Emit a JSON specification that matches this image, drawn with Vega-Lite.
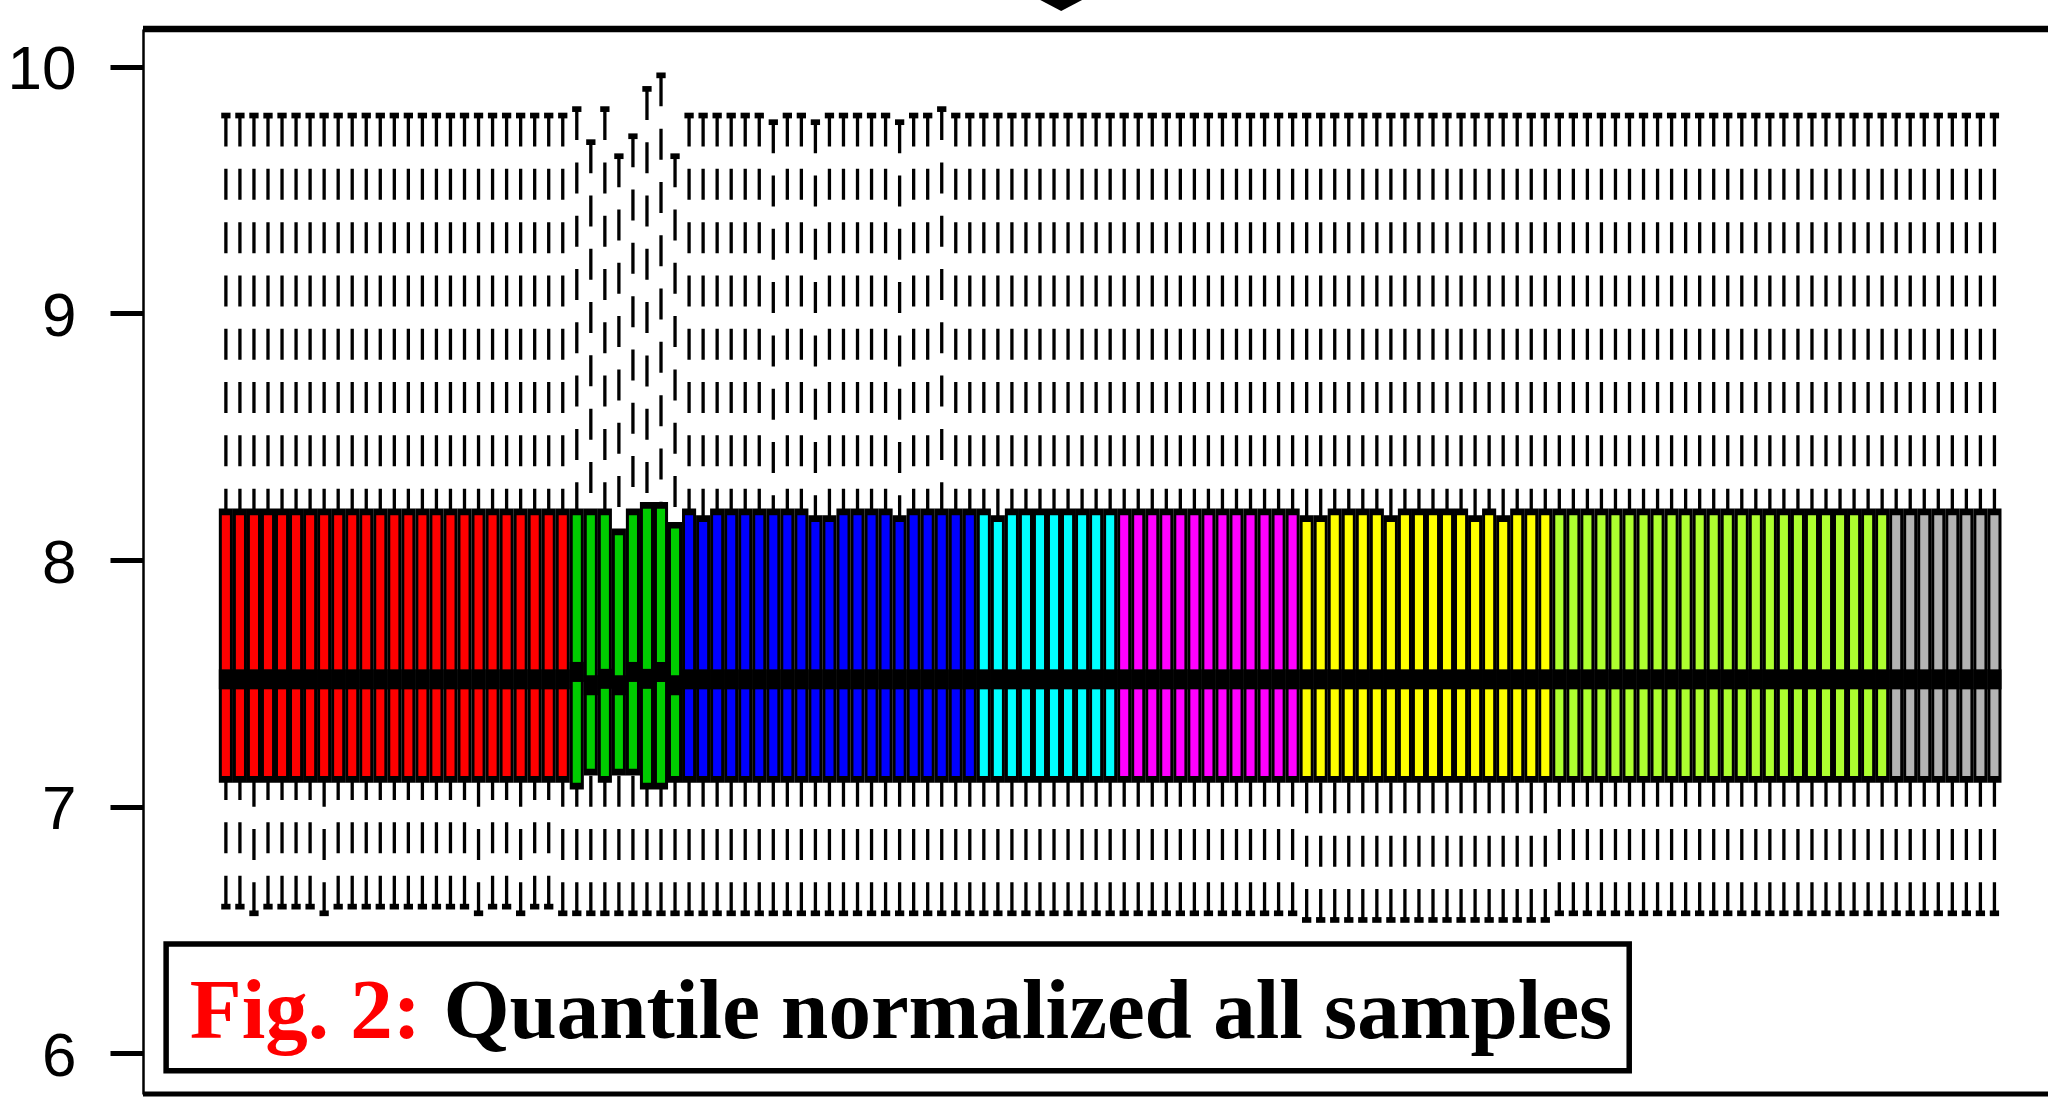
{
  "$schema": "https://vega.github.io/schema/vega-lite/v6.json",
  "autosize": {"type": "none"},
  "padding": {"left": 143, "top": 29, "right": 0, "bottom": 3},
  "width": 1905,
  "height": 1065,
  "background": "white",
  "config": {
    "view": {"stroke": null},
    "axisY": {
      "domain": true, "domainColor": "black", "domainWidth": 2.5,
      "ticks": true, "tickColor": "black", "tickWidth": 5, "tickSize": 33,
      "labelFont": "Liberation Sans Narrow, Liberation Sans", "labelFontSize": 62,
      "labelColor": "black", "labelPadding": 34, "labelOffset": 3,
      "grid": false, "title": null
    }
  },
  "datasets": {
    "boxes": [
      {"s":1,"g":"A","lo":6.594,"q1":7.11,"md":7.516,"q3":8.195,"hi":9.803},
      {"s":2,"g":"A","lo":6.594,"q1":7.11,"md":7.516,"q3":8.195,"hi":9.803},
      {"s":3,"g":"A","lo":6.567,"q1":7.11,"md":7.516,"q3":8.195,"hi":9.803},
      {"s":4,"g":"A","lo":6.594,"q1":7.11,"md":7.516,"q3":8.195,"hi":9.803},
      {"s":5,"g":"A","lo":6.594,"q1":7.11,"md":7.516,"q3":8.195,"hi":9.803},
      {"s":6,"g":"A","lo":6.594,"q1":7.11,"md":7.516,"q3":8.195,"hi":9.803},
      {"s":7,"g":"A","lo":6.594,"q1":7.11,"md":7.516,"q3":8.195,"hi":9.803},
      {"s":8,"g":"A","lo":6.567,"q1":7.11,"md":7.516,"q3":8.195,"hi":9.803},
      {"s":9,"g":"A","lo":6.594,"q1":7.11,"md":7.516,"q3":8.195,"hi":9.803},
      {"s":10,"g":"A","lo":6.594,"q1":7.11,"md":7.516,"q3":8.195,"hi":9.803},
      {"s":11,"g":"A","lo":6.594,"q1":7.11,"md":7.516,"q3":8.195,"hi":9.803},
      {"s":12,"g":"A","lo":6.594,"q1":7.11,"md":7.516,"q3":8.195,"hi":9.803},
      {"s":13,"g":"A","lo":6.594,"q1":7.11,"md":7.516,"q3":8.195,"hi":9.803},
      {"s":14,"g":"A","lo":6.594,"q1":7.11,"md":7.516,"q3":8.195,"hi":9.803},
      {"s":15,"g":"A","lo":6.594,"q1":7.11,"md":7.516,"q3":8.195,"hi":9.803},
      {"s":16,"g":"A","lo":6.594,"q1":7.11,"md":7.516,"q3":8.195,"hi":9.803},
      {"s":17,"g":"A","lo":6.594,"q1":7.11,"md":7.516,"q3":8.195,"hi":9.803},
      {"s":18,"g":"A","lo":6.594,"q1":7.11,"md":7.516,"q3":8.195,"hi":9.803},
      {"s":19,"g":"A","lo":6.567,"q1":7.11,"md":7.516,"q3":8.195,"hi":9.803},
      {"s":20,"g":"A","lo":6.594,"q1":7.11,"md":7.516,"q3":8.195,"hi":9.803},
      {"s":21,"g":"A","lo":6.594,"q1":7.11,"md":7.516,"q3":8.195,"hi":9.803},
      {"s":22,"g":"A","lo":6.567,"q1":7.11,"md":7.516,"q3":8.195,"hi":9.803},
      {"s":23,"g":"A","lo":6.594,"q1":7.11,"md":7.516,"q3":8.195,"hi":9.803},
      {"s":24,"g":"A","lo":6.594,"q1":7.11,"md":7.516,"q3":8.195,"hi":9.803},
      {"s":25,"g":"A","lo":6.567,"q1":7.11,"md":7.516,"q3":8.195,"hi":9.803},
      {"s":26,"g":"B","lo":6.567,"q1":7.083,"md":7.546,"q3":8.195,"hi":9.829},
      {"s":27,"g":"B","lo":6.567,"q1":7.14,"md":7.492,"q3":8.195,"hi":9.695},
      {"s":28,"g":"B","lo":6.567,"q1":7.11,"md":7.518,"q3":8.195,"hi":9.829},
      {"s":29,"g":"B","lo":6.567,"q1":7.14,"md":7.492,"q3":8.114,"hi":9.638},
      {"s":30,"g":"B","lo":6.567,"q1":7.14,"md":7.546,"q3":8.195,"hi":9.719},
      {"s":31,"g":"B","lo":6.567,"q1":7.083,"md":7.518,"q3":8.222,"hi":9.911},
      {"s":32,"g":"B","lo":6.567,"q1":7.083,"md":7.546,"q3":8.222,"hi":9.966},
      {"s":33,"g":"B","lo":6.567,"q1":7.11,"md":7.492,"q3":8.141,"hi":9.638},
      {"s":34,"g":"C","lo":6.567,"q1":7.11,"md":7.516,"q3":8.195,"hi":9.803},
      {"s":35,"g":"C","lo":6.567,"q1":7.11,"md":7.516,"q3":8.168,"hi":9.803},
      {"s":36,"g":"C","lo":6.567,"q1":7.11,"md":7.516,"q3":8.195,"hi":9.803},
      {"s":37,"g":"C","lo":6.567,"q1":7.11,"md":7.516,"q3":8.195,"hi":9.803},
      {"s":38,"g":"C","lo":6.567,"q1":7.11,"md":7.516,"q3":8.195,"hi":9.803},
      {"s":39,"g":"C","lo":6.567,"q1":7.11,"md":7.516,"q3":8.195,"hi":9.803},
      {"s":40,"g":"C","lo":6.567,"q1":7.11,"md":7.516,"q3":8.195,"hi":9.776},
      {"s":41,"g":"C","lo":6.567,"q1":7.11,"md":7.516,"q3":8.195,"hi":9.803},
      {"s":42,"g":"C","lo":6.567,"q1":7.11,"md":7.516,"q3":8.195,"hi":9.803},
      {"s":43,"g":"C","lo":6.567,"q1":7.11,"md":7.516,"q3":8.168,"hi":9.776},
      {"s":44,"g":"C","lo":6.567,"q1":7.11,"md":7.516,"q3":8.168,"hi":9.803},
      {"s":45,"g":"C","lo":6.567,"q1":7.11,"md":7.516,"q3":8.195,"hi":9.803},
      {"s":46,"g":"C","lo":6.567,"q1":7.11,"md":7.516,"q3":8.195,"hi":9.803},
      {"s":47,"g":"C","lo":6.567,"q1":7.11,"md":7.516,"q3":8.195,"hi":9.803},
      {"s":48,"g":"C","lo":6.567,"q1":7.11,"md":7.516,"q3":8.195,"hi":9.803},
      {"s":49,"g":"C","lo":6.567,"q1":7.11,"md":7.516,"q3":8.168,"hi":9.776},
      {"s":50,"g":"C","lo":6.567,"q1":7.11,"md":7.516,"q3":8.195,"hi":9.803},
      {"s":51,"g":"C","lo":6.567,"q1":7.11,"md":7.516,"q3":8.195,"hi":9.803},
      {"s":52,"g":"C","lo":6.567,"q1":7.11,"md":7.516,"q3":8.195,"hi":9.829},
      {"s":53,"g":"C","lo":6.567,"q1":7.11,"md":7.516,"q3":8.195,"hi":9.803},
      {"s":54,"g":"C","lo":6.567,"q1":7.11,"md":7.516,"q3":8.195,"hi":9.803},
      {"s":55,"g":"D","lo":6.567,"q1":7.11,"md":7.516,"q3":8.195,"hi":9.803},
      {"s":56,"g":"D","lo":6.567,"q1":7.11,"md":7.516,"q3":8.168,"hi":9.803},
      {"s":57,"g":"D","lo":6.567,"q1":7.11,"md":7.516,"q3":8.195,"hi":9.803},
      {"s":58,"g":"D","lo":6.567,"q1":7.11,"md":7.516,"q3":8.195,"hi":9.803},
      {"s":59,"g":"D","lo":6.567,"q1":7.11,"md":7.516,"q3":8.195,"hi":9.803},
      {"s":60,"g":"D","lo":6.567,"q1":7.11,"md":7.516,"q3":8.195,"hi":9.803},
      {"s":61,"g":"D","lo":6.567,"q1":7.11,"md":7.516,"q3":8.195,"hi":9.803},
      {"s":62,"g":"D","lo":6.567,"q1":7.11,"md":7.516,"q3":8.195,"hi":9.803},
      {"s":63,"g":"D","lo":6.567,"q1":7.11,"md":7.516,"q3":8.195,"hi":9.803},
      {"s":64,"g":"D","lo":6.567,"q1":7.11,"md":7.516,"q3":8.195,"hi":9.803},
      {"s":65,"g":"E","lo":6.567,"q1":7.11,"md":7.516,"q3":8.195,"hi":9.803},
      {"s":66,"g":"E","lo":6.567,"q1":7.11,"md":7.516,"q3":8.195,"hi":9.803},
      {"s":67,"g":"E","lo":6.567,"q1":7.11,"md":7.516,"q3":8.195,"hi":9.803},
      {"s":68,"g":"E","lo":6.567,"q1":7.11,"md":7.516,"q3":8.195,"hi":9.803},
      {"s":69,"g":"E","lo":6.567,"q1":7.11,"md":7.516,"q3":8.195,"hi":9.803},
      {"s":70,"g":"E","lo":6.567,"q1":7.11,"md":7.516,"q3":8.195,"hi":9.803},
      {"s":71,"g":"E","lo":6.567,"q1":7.11,"md":7.516,"q3":8.195,"hi":9.803},
      {"s":72,"g":"E","lo":6.567,"q1":7.11,"md":7.516,"q3":8.195,"hi":9.803},
      {"s":73,"g":"E","lo":6.567,"q1":7.11,"md":7.516,"q3":8.195,"hi":9.803},
      {"s":74,"g":"E","lo":6.567,"q1":7.11,"md":7.516,"q3":8.195,"hi":9.803},
      {"s":75,"g":"E","lo":6.567,"q1":7.11,"md":7.516,"q3":8.195,"hi":9.803},
      {"s":76,"g":"E","lo":6.567,"q1":7.11,"md":7.516,"q3":8.195,"hi":9.803},
      {"s":77,"g":"E","lo":6.567,"q1":7.11,"md":7.516,"q3":8.195,"hi":9.803},
      {"s":78,"g":"F","lo":6.54,"q1":7.11,"md":7.516,"q3":8.168,"hi":9.803},
      {"s":79,"g":"F","lo":6.54,"q1":7.11,"md":7.516,"q3":8.168,"hi":9.803},
      {"s":80,"g":"F","lo":6.54,"q1":7.11,"md":7.516,"q3":8.195,"hi":9.803},
      {"s":81,"g":"F","lo":6.54,"q1":7.11,"md":7.516,"q3":8.195,"hi":9.803},
      {"s":82,"g":"F","lo":6.54,"q1":7.11,"md":7.516,"q3":8.195,"hi":9.803},
      {"s":83,"g":"F","lo":6.54,"q1":7.11,"md":7.516,"q3":8.195,"hi":9.803},
      {"s":84,"g":"F","lo":6.54,"q1":7.11,"md":7.516,"q3":8.168,"hi":9.803},
      {"s":85,"g":"F","lo":6.54,"q1":7.11,"md":7.516,"q3":8.195,"hi":9.803},
      {"s":86,"g":"F","lo":6.54,"q1":7.11,"md":7.516,"q3":8.195,"hi":9.803},
      {"s":87,"g":"F","lo":6.54,"q1":7.11,"md":7.516,"q3":8.195,"hi":9.803},
      {"s":88,"g":"F","lo":6.54,"q1":7.11,"md":7.516,"q3":8.195,"hi":9.803},
      {"s":89,"g":"F","lo":6.54,"q1":7.11,"md":7.516,"q3":8.195,"hi":9.803},
      {"s":90,"g":"F","lo":6.54,"q1":7.11,"md":7.516,"q3":8.168,"hi":9.803},
      {"s":91,"g":"F","lo":6.54,"q1":7.11,"md":7.516,"q3":8.195,"hi":9.803},
      {"s":92,"g":"F","lo":6.54,"q1":7.11,"md":7.516,"q3":8.168,"hi":9.803},
      {"s":93,"g":"F","lo":6.54,"q1":7.11,"md":7.516,"q3":8.195,"hi":9.803},
      {"s":94,"g":"F","lo":6.54,"q1":7.11,"md":7.516,"q3":8.195,"hi":9.803},
      {"s":95,"g":"F","lo":6.54,"q1":7.11,"md":7.516,"q3":8.195,"hi":9.803},
      {"s":96,"g":"G","lo":6.567,"q1":7.11,"md":7.516,"q3":8.195,"hi":9.803},
      {"s":97,"g":"G","lo":6.567,"q1":7.11,"md":7.516,"q3":8.195,"hi":9.803},
      {"s":98,"g":"G","lo":6.567,"q1":7.11,"md":7.516,"q3":8.195,"hi":9.803},
      {"s":99,"g":"G","lo":6.567,"q1":7.11,"md":7.516,"q3":8.195,"hi":9.803},
      {"s":100,"g":"G","lo":6.567,"q1":7.11,"md":7.516,"q3":8.195,"hi":9.803},
      {"s":101,"g":"G","lo":6.567,"q1":7.11,"md":7.516,"q3":8.195,"hi":9.803},
      {"s":102,"g":"G","lo":6.567,"q1":7.11,"md":7.516,"q3":8.195,"hi":9.803},
      {"s":103,"g":"G","lo":6.567,"q1":7.11,"md":7.516,"q3":8.195,"hi":9.803},
      {"s":104,"g":"G","lo":6.567,"q1":7.11,"md":7.516,"q3":8.195,"hi":9.803},
      {"s":105,"g":"G","lo":6.567,"q1":7.11,"md":7.516,"q3":8.195,"hi":9.803},
      {"s":106,"g":"G","lo":6.567,"q1":7.11,"md":7.516,"q3":8.195,"hi":9.803},
      {"s":107,"g":"G","lo":6.567,"q1":7.11,"md":7.516,"q3":8.195,"hi":9.803},
      {"s":108,"g":"G","lo":6.567,"q1":7.11,"md":7.516,"q3":8.195,"hi":9.803},
      {"s":109,"g":"G","lo":6.567,"q1":7.11,"md":7.516,"q3":8.195,"hi":9.803},
      {"s":110,"g":"G","lo":6.567,"q1":7.11,"md":7.516,"q3":8.195,"hi":9.803},
      {"s":111,"g":"G","lo":6.567,"q1":7.11,"md":7.516,"q3":8.195,"hi":9.803},
      {"s":112,"g":"G","lo":6.567,"q1":7.11,"md":7.516,"q3":8.195,"hi":9.803},
      {"s":113,"g":"G","lo":6.567,"q1":7.11,"md":7.516,"q3":8.195,"hi":9.803},
      {"s":114,"g":"G","lo":6.567,"q1":7.11,"md":7.516,"q3":8.195,"hi":9.803},
      {"s":115,"g":"G","lo":6.567,"q1":7.11,"md":7.516,"q3":8.195,"hi":9.803},
      {"s":116,"g":"G","lo":6.567,"q1":7.11,"md":7.516,"q3":8.195,"hi":9.803},
      {"s":117,"g":"G","lo":6.567,"q1":7.11,"md":7.516,"q3":8.195,"hi":9.803},
      {"s":118,"g":"G","lo":6.567,"q1":7.11,"md":7.516,"q3":8.195,"hi":9.803},
      {"s":119,"g":"G","lo":6.567,"q1":7.11,"md":7.516,"q3":8.195,"hi":9.803},
      {"s":120,"g":"H","lo":6.567,"q1":7.11,"md":7.516,"q3":8.195,"hi":9.803},
      {"s":121,"g":"H","lo":6.567,"q1":7.11,"md":7.516,"q3":8.195,"hi":9.803},
      {"s":122,"g":"H","lo":6.567,"q1":7.11,"md":7.516,"q3":8.195,"hi":9.803},
      {"s":123,"g":"H","lo":6.567,"q1":7.11,"md":7.516,"q3":8.195,"hi":9.803},
      {"s":124,"g":"H","lo":6.567,"q1":7.11,"md":7.516,"q3":8.195,"hi":9.803},
      {"s":125,"g":"H","lo":6.567,"q1":7.11,"md":7.516,"q3":8.195,"hi":9.803},
      {"s":126,"g":"H","lo":6.567,"q1":7.11,"md":7.516,"q3":8.195,"hi":9.803},
      {"s":127,"g":"H","lo":6.567,"q1":7.11,"md":7.516,"q3":8.195,"hi":9.803}
    ]
  },
  "layer": [
    {
      "data": {"name": "boxes"},
      "mark": {"type": "rule", "color": "black", "strokeWidth": 3.3, "strokeDash": [31, 22.3], "strokeCap": "butt"},
      "encoding": {
        "x": {"field": "s", "type": "quantitative", "scale": {"domain": [-4.549, 130.46], "nice": false, "zero": false}, "axis": null},
        "y": {"field": "hi", "type": "quantitative", "scale": {"domain": [5.834, 10.154], "nice": false, "zero": false}, "axis": {"values": [6, 7, 8, 9, 10], "format": "d"}},
        "y2": {"field": "q3"}
      }
    },
    {
      "data": {"name": "boxes"},
      "mark": {"type": "rule", "color": "black", "strokeWidth": 3.3, "strokeDash": [31, 22.3], "strokeCap": "butt"},
      "encoding": {
        "x": {"field": "s", "type": "quantitative"},
        "y": {"field": "lo", "type": "quantitative"},
        "y2": {"field": "q1"}
      }
    },
    {
      "data": {"name": "boxes"},
      "mark": {"type": "tick", "orient": "horizontal", "color": "black", "opacity": 1, "size": 9.3, "thickness": 5.7},
      "encoding": {
        "x": {"field": "s", "type": "quantitative"},
        "y": {"field": "hi", "type": "quantitative"}
      }
    },
    {
      "data": {"name": "boxes"},
      "mark": {"type": "tick", "orient": "horizontal", "color": "black", "opacity": 1, "size": 9.3, "thickness": 5.7},
      "encoding": {
        "x": {"field": "s", "type": "quantitative"},
        "y": {"field": "lo", "type": "quantitative"}
      }
    },
    {
      "data": {"name": "boxes"},
      "mark": {"type": "bar", "color": "black", "width": 14.11, "yOffset": 3.35, "y2Offset": -3.35},
      "encoding": {
        "x": {"field": "s", "type": "quantitative"},
        "y": {"field": "q1", "type": "quantitative"},
        "y2": {"field": "q3"}
      }
    },
    {
      "data": {"name": "boxes"},
      "mark": {"type": "bar", "width": 8.1, "yOffset": -3.35, "y2Offset": 3.35, "opacity": 1},
      "encoding": {
        "x": {"field": "s", "type": "quantitative"},
        "y": {"field": "q1", "type": "quantitative"},
        "y2": {"field": "q3"},
        "color": {"field": "g", "type": "nominal", "legend": null,
          "scale": {"domain": ["A", "B", "C", "D", "E", "F", "G", "H"],
                    "range": ["#FF0000", "#00CD00", "#0000FF", "#00FFFF", "#FF00FF", "#FFFF00", "#ADFF2F", "#B3B3B3"]}}
      }
    },
    {
      "data": {"name": "boxes"},
      "mark": {"type": "tick", "orient": "horizontal", "color": "black", "opacity": 1, "size": 14.11, "thickness": 20},
      "encoding": {
        "x": {"field": "s", "type": "quantitative"},
        "y": {"field": "md", "type": "quantitative"}
      }
    },
    {
      "data": {"values": [{}]},
      "mark": {"type": "rule", "color": "black", "strokeWidth": 6.5},
      "encoding": {"y": {"datum": 10.154, "type": "quantitative"}}
    },
    {
      "data": {"values": [{}]},
      "mark": {"type": "rule", "color": "black", "strokeWidth": 5},
      "encoding": {"y": {"datum": 5.834, "type": "quantitative"}}
    },
    {
      "data": {"values": [{}]},
      "mark": {"type": "rect", "fill": "white", "stroke": "black", "strokeWidth": 5.5},
      "encoding": {
        "x": {"datum": -3.258, "type": "quantitative"},
        "x2": {"datum": 100.98},
        "y": {"datum": 6.442, "type": "quantitative"},
        "y2": {"datum": 5.928}
      }
    },
    {
      "data": {"values": [{}]},
      "mark": {"type": "text", "text": "Fig. 2:", "color": "#FF0000", "font": "Liberation Serif", "fontWeight": "bold", "fontSize": 85, "align": "left", "baseline": "alphabetic"},
      "encoding": {
        "x": {"datum": -1.573, "type": "quantitative"},
        "y": {"datum": 6.0596, "type": "quantitative"}
      }
    },
    {
      "data": {"values": [{}]},
      "mark": {"type": "text", "text": "Quantile normalized all samples", "color": "black", "font": "Liberation Serif", "fontWeight": "bold", "fontSize": 85, "align": "left", "baseline": "alphabetic"},
      "encoding": {
        "x": {"datum": 16.5, "type": "quantitative"},
        "y": {"datum": 6.0596, "type": "quantitative"}
      }
    },
    {
      "data": {"values": [{}]},
      "mark": {"type": "point", "shape": "M-3.8,-2L3.8,-2L0,0Z", "filled": true, "color": "black", "opacity": 1, "size": 484, "strokeWidth": 0},
      "encoding": {
        "x": {"datum": 60.51, "type": "quantitative"},
        "y": {"datum": 10.227, "type": "quantitative"}
      }
    }
  ]
}
